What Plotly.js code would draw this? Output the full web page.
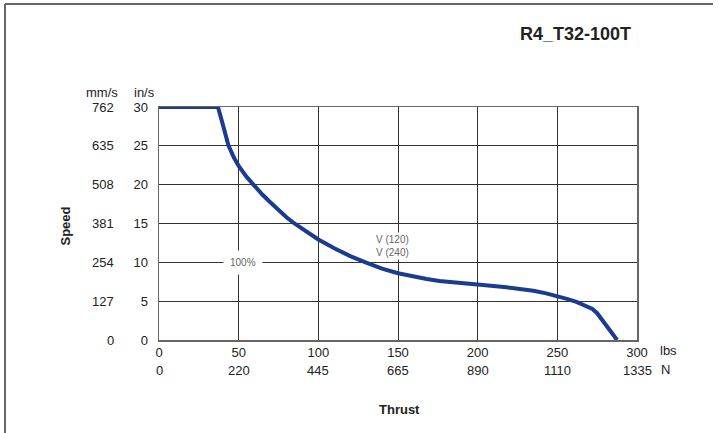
<!DOCTYPE html>
<html>
<head>
<meta charset="utf-8">
<script src="https://cdn.plot.ly/plotly-3.0.1.min.js"></script>
<style>
  html, body { margin: 0; padding: 0; background: #fff; }
  #chart { width: 719px; height: 433px; }
</style>
</head>
<body>
<div id="chart"></div>
<script>
// Thrust (lbs) vs Speed (in/s) curve
const thrustLbs = [0, 37, 40, 43.5, 47, 50, 55, 60, 65, 70, 75, 80, 85, 90, 95, 100, 110, 120, 130, 140, 150, 160, 168, 176, 185, 192, 200, 210, 218, 226, 235, 243, 250, 256, 262, 267, 270, 272, 275, 287.5];
const speedIns  = [30, 30, 27.8, 25.1, 23.5, 22.4, 21.0, 19.8, 18.7, 17.7, 16.7, 15.8, 15.0, 14.3, 13.6, 12.95, 11.8, 10.8, 9.95, 9.2, 8.6, 8.15, 7.85, 7.6, 7.4, 7.25, 7.1, 6.95, 6.8, 6.6, 6.35, 6.0, 5.65, 5.3, 4.9, 4.5, 4.25, 4.0, 3.45, 0];

// Axis tick labels
const xTickLbs = [0, 50, 100, 150, 200, 250, 300];
const xTickN   = ["0", "220", "445", "665", "890", "1110", "1335"];
const yTickIns = [0, 5, 10, 15, 20, 25, 30];
const yTickMm  = ["0", "127", "254", "381", "508", "635", "762"];

const chartTitle = "R4_T32-100T";
const FONT = "Liberation Sans, Arial, sans-serif";
const TXT = "#222";

const annotations = [];

// mm/s column
yTickMm.forEach((t, i) => {
  annotations.push({
    xref: "paper", yref: "y", x: 0, y: yTickIns[i], text: t,
    xanchor: "right", yanchor: "middle", xshift: -43, showarrow: false,
    font: {family: FONT, size: 13, color: TXT}
  });
});
// N row
xTickN.forEach((t, i) => {
  annotations.push({
    xref: "x", yref: "paper", x: xTickLbs[i], y: 0, text: t,
    xanchor: "center", yanchor: "middle", yshift: -30, showarrow: false,
    font: {family: FONT, size: 13, color: TXT}
  });
});
// Unit headers and unit labels
annotations.push(
  {xref: "paper", yref: "paper", x: 0, y: 1, text: "mm/s", xanchor: "right", yanchor: "middle",
   xshift: -39, yshift: 15, showarrow: false, font: {family: FONT, size: 13, color: TXT}},
  {xref: "paper", yref: "paper", x: 0, y: 1, text: "in/s", xanchor: "right", yanchor: "middle",
   xshift: -2, yshift: 15, showarrow: false, font: {family: FONT, size: 13, color: TXT}},
  {xref: "paper", yref: "paper", x: 1, y: 0, text: "lbs", xanchor: "left", yanchor: "middle",
   xshift: 21, yshift: -10, showarrow: false, font: {family: FONT, size: 13, color: TXT}},
  {xref: "paper", yref: "paper", x: 1, y: 0, text: "N", xanchor: "left", yanchor: "middle",
   xshift: 22, yshift: -29, showarrow: false, font: {family: FONT, size: 13, color: TXT}},
  // Axis titles
  {xref: "paper", yref: "paper", x: 0, y: 0.5, text: "<b>Speed</b>", textangle: -90,
   xanchor: "center", yanchor: "middle", xshift: -94, yshift: -3, showarrow: false,
   font: {family: FONT, size: 13, color: TXT}},
  {xref: "paper", yref: "paper", x: 0.5, y: 0, text: "<b>Thrust</b>",
   xanchor: "center", yanchor: "middle", xshift: 1, yshift: -69, showarrow: false,
   font: {family: FONT, size: 13, color: TXT}},
  // Chart title
  {xref: "paper", yref: "paper", x: 1, y: 1, text: "<b>" + chartTitle + "</b>",
   xanchor: "right", yanchor: "middle", xshift: -4, yshift: 73, showarrow: false,
   font: {family: FONT, size: 18, color: TXT}},
  // In-plot labels
  {xref: "x", yref: "y", x: 52.8, y: 10, text: "100%", xanchor: "center", yanchor: "middle",
   showarrow: false, bgcolor: "#fff", borderpad: 6,
   font: {family: FONT, size: 10, color: "#666"}},
  {xref: "x", yref: "y", x: 146.6, y: 12.07, text: "V (120)<br>V (240)", xanchor: "center", yanchor: "middle",
   showarrow: false, bgcolor: "#fff", borderpad: 1, align: "left",
   font: {family: FONT, size: 10, color: "#666"}}
);

const trace = {
  x: thrustLbs, y: speedIns, type: "scatter", mode: "lines",
  line: {color: "#1b3b8f", width: 4, shape: "linear"},
  hoverinfo: "skip", cliponaxis: false
};

const layout = {
  width: 719, height: 433,
  margin: {l: 159, r: 82, t: 107, b: 93},
  paper_bgcolor: "#fff", plot_bgcolor: "#fff",
  showlegend: false,
  xaxis: {
    range: [0, 300], tickvals: xTickLbs, ticktext: xTickLbs.map(String),
    showgrid: true, gridcolor: "#333", gridwidth: 1,
    showline: true, linecolor: "#666", linewidth: 1.5, mirror: true,
    zeroline: false, ticks: "", ticklabelstandoff: 0,
    tickfont: {family: FONT, size: 13, color: TXT}, fixedrange: true
  },
  yaxis: {
    range: [0, 30], tickvals: yTickIns, ticktext: yTickIns.map(String),
    showgrid: true, gridcolor: "#333", gridwidth: 1,
    showline: true, linecolor: "#666", linewidth: 1.5, mirror: true,
    zeroline: false, ticks: "", ticklabelstandoff: 7,
    tickfont: {family: FONT, size: 13, color: TXT}, fixedrange: true
  },
  annotations: annotations,
  shapes: [
    {type: "line", xref: "paper", yref: "paper", x0: -0.3222, x1: 1.159, y0: 1.4421, y1: 1.4421,
     line: {color: "#666", width: 2}, layer: "below"},
    {type: "line", xref: "paper", yref: "paper", x0: -0.3222, x1: -0.3222, y0: 1.4421, y1: -0.5,
     line: {color: "#666", width: 2}, layer: "below"}
  ]
};

Plotly.newPlot("chart", [trace], layout, {staticPlot: true, displayModeBar: false});
</script>
</body>
</html>
